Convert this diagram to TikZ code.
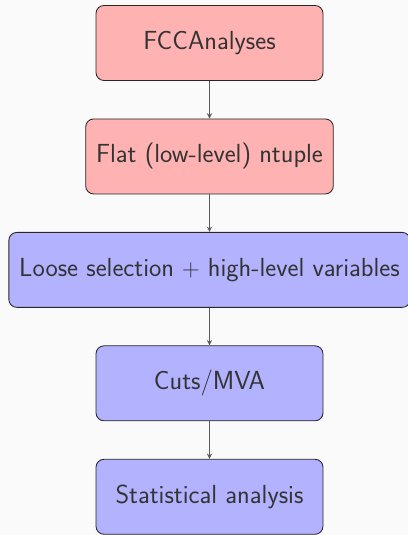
\documentclass[tikz,border=0pt]{standalone}
\usetikzlibrary{positioning}

\begin{document}
\begin{tikzpicture}[>=stealth, node distance=0.94cm,
  stage/.style={draw=black!85, line width=0.6pt, rounded corners=0.2cm,
    minimum width=5.675cm, minimum height=1.875cm, inner xsep=0.26cm,
    text=black!80, font=\sffamily\fontsize{18.6}{22}\selectfont},
  lowlevel/.style={stage, fill=red!30},
  highlevel/.style={stage, fill=blue!30}]
  % Page limits
  \def\xmax{10.2}
  \def\ymax{13.375}

  % Light background
  \fill[black!2] (0,0) rectangle (\xmax,\ymax);
  \useasboundingbox (0,0) rectangle (\xmax,\ymax);

  % Stages (top to bottom)
  \node[lowlevel] (fcc) at (5.2375,12.3) {FCCAnalyses};
  \node[lowlevel, below=of fcc] (flat) {Flat (low-level) ntuple};
  \node[highlevel, below=of flat] (loose) {Loose selection $+$ high-level variables};
  \node[highlevel, below=of loose] (cuts) {Cuts/MVA};
  \node[highlevel, below=of cuts] (stat) {Statistical analysis};

  % Arrows
  \foreach \a/\b in {fcc/flat, flat/loose, loose/cuts, cuts/stat}{
    \draw[->, black!65, line width=0.7pt] (\a) -- (\b);
  }
\end{tikzpicture}
\end{document}
